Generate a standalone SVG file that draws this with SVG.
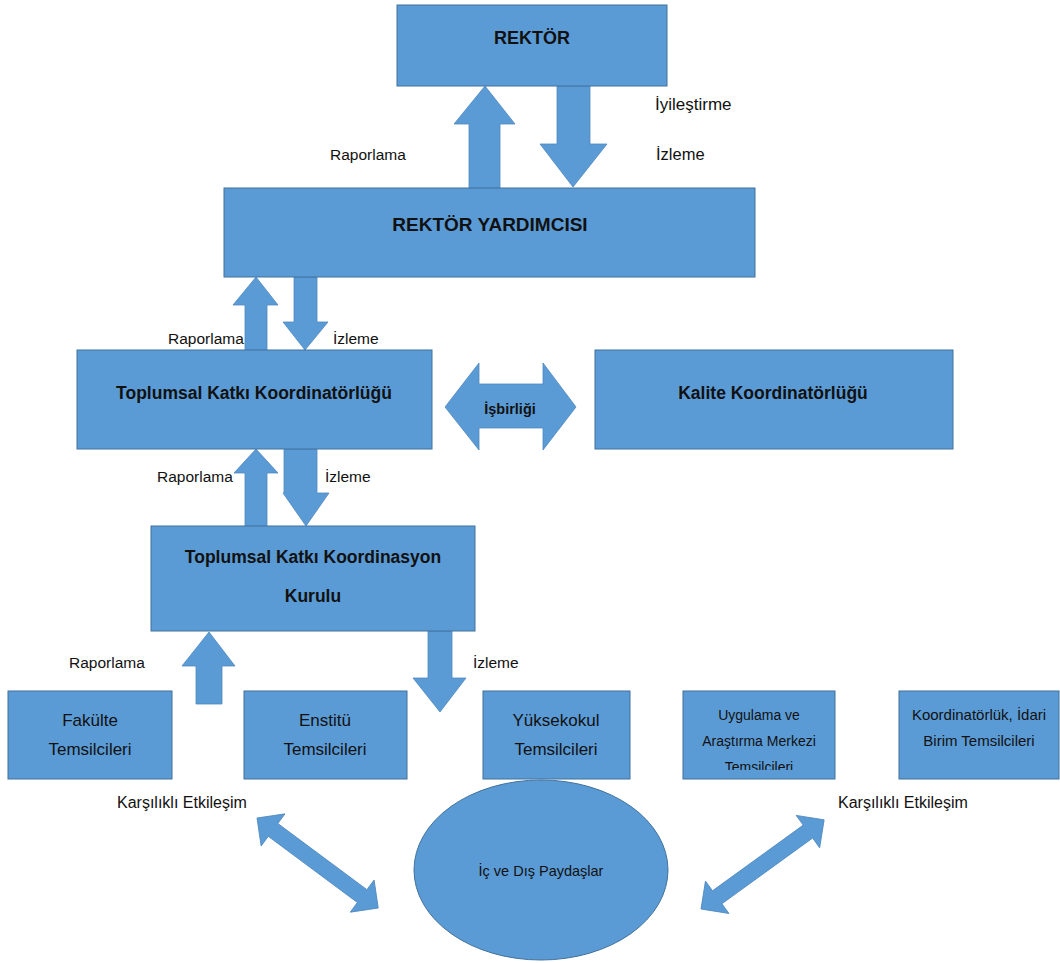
<svg xmlns="http://www.w3.org/2000/svg" width="1060" height="963" viewBox="0 0 1060 963">
<style>
.box{fill:#5B9BD5;stroke:#41719C;stroke-width:1}
.arr{fill:#5B9BD5;stroke:#4F88BE;stroke-width:0.8}
.t{font-family:"Liberation Sans",Arial,sans-serif;fill:#111;text-anchor:middle}
.hb{font-weight:bold;font-size:17px}
.sm{font-size:17px}
.xs{font-size:14px}
.lb{font-family:"Liberation Sans",Arial,sans-serif;fill:#111;font-size:15.5px}
</style>
<defs>
<clipPath id="clipU"><rect x="683" y="691" width="152" height="79"/></clipPath>
</defs>
<rect width="1060" height="963" fill="#fff"/>

<g id="connectors">
<polygon class="arr" points="485,86 515,124 500,124 500,188 469,188 469,124 454,124"/>
<polygon class="arr" points="557,86 590,86 590,144 607,144 573,187 540,144 557,144"/>
<polygon class="arr" points="256,277 278,305 267,305 267,350 245,350 245,305 233,305"/>
<polygon class="arr" points="294,277 317,277 317,322 328,322 305,350 283,322 294,322"/>
<polygon class="arr" points="256,449 278,473 267,473 267,526 245,526 245,473 234,473"/>
<polygon class="arr" points="284,449 317,449 317,493 329,493 306,526 283,493 284,493"/>
<polygon class="arr" points="209,632 235,666 222,666 222,704 196,704 196,666 182,666"/>
<polygon class="arr" points="428,631 452,631 452,678 466,678 440,712 413,678 428,678"/>
<polygon class="arr" points="445,407 479,363 479,384 543,384 543,363 576,407 543,450 543,428 479,428 479,450"/>
<polygon class="arr" transform="translate(257,818) rotate(36.6)" points="0,0 20,-20 20,-8 131,-8 131,-20 151,0 131,20 131,8 20,8 20,20"/>
<polygon class="arr" transform="translate(701,909) rotate(-35.9)" points="0,0 20,-20 20,-8 132,-8 132,-20 152,0 132,20 132,8 20,8 20,20"/>
<text class="lb" x="655" y="110" style="font-size:17px">İyileştirme</text>
<text class="lb" x="656" y="160" style="font-size:16.5px">İzleme</text>
<text class="lb" x="330" y="160">Raporlama</text>
<text class="lb" x="168" y="344">Raporlama</text>
<text class="lb" x="333" y="344">İzleme</text>
<text class="lb" x="157" y="482">Raporlama</text>
<text class="lb" x="325" y="482">İzleme</text>
<text class="lb" x="69" y="668">Raporlama</text>
<text class="lb" x="473" y="668">İzleme</text>
<text class="t" x="510" y="414" style="font-size:14.5px;font-weight:bold">İşbirliği</text>
<text class="lb" x="117" y="808" style="font-size:16px">Karşılıklı Etkileşim</text>
<text class="lb" x="838" y="808" style="font-size:16px">Karşılıklı Etkileşim</text>
</g>

<g id="rektor">
<rect class="box" x="397" y="5" width="270" height="81"/>
<text class="t hb" x="532" y="44" style="font-size:18px">REKTÖR</text>
</g>
<g id="rektor-yardimcisi">
<rect class="box" x="224" y="188" width="531" height="89"/>
<text class="t hb" x="490" y="231" style="font-size:19px">REKTÖR YARDIMCISI</text>
</g>
<g id="tkk">
<rect class="box" x="77" y="350" width="355" height="99"/>
<text class="t hb" x="254" y="399" style="font-size:17.5px">Toplumsal Katkı Koordinatörlüğü</text>
</g>
<g id="kalite">
<rect class="box" x="595" y="350" width="358" height="99"/>
<text class="t hb" x="773" y="399" style="font-size:17.5px">Kalite Koordinatörlüğü</text>
</g>
<g id="tkkk">
<rect class="box" x="151" y="526" width="324" height="105"/>
<text class="t hb" x="313" y="563" style="font-size:17.5px">Toplumsal Katkı Koordinasyon</text>
<text class="t hb" x="313" y="602" style="font-size:17.5px">Kurulu</text>
</g>
<g id="fakulte">
<rect class="box" x="8" y="691" width="164" height="88"/>
<text class="t sm" x="90" y="726">Fakülte</text>
<text class="t sm" x="90" y="755">Temsilcileri</text>
</g>
<g id="enstitu">
<rect class="box" x="244" y="691" width="163" height="88"/>
<text class="t sm" x="325" y="726">Enstitü</text>
<text class="t sm" x="325" y="755">Temsilcileri</text>
</g>
<g id="yuksekokul">
<rect class="box" x="483" y="691" width="147" height="88"/>
<text class="t sm" x="556" y="726">Yüksekokul</text>
<text class="t sm" x="556" y="755">Temsilcileri</text>
</g>
<g id="uygulama">
<rect class="box" x="683" y="691" width="152" height="88"/>
<g clip-path="url(#clipU)">
<text class="t xs" x="759" y="720">Uygulama ve</text>
<text class="t xs" x="759" y="746">Araştırma Merkezi</text>
<text class="t xs" x="759" y="772">Temsilcileri</text>
</g>
</g>
<g id="koordinatorluk">
<rect class="box" x="899" y="691" width="160" height="88"/>
<text class="t xs" x="979" y="720" style="font-size:15px">Koordinatörlük, İdari</text>
<text class="t xs" x="979" y="746" style="font-size:15px">Birim Temsilcileri</text>
</g>
<g id="paydaslar">
<ellipse class="box" cx="541" cy="870" rx="127" ry="90"/>
<text class="t" x="541" y="876" style="font-size:14.5px">İç ve Dış Paydaşlar</text>
</g>
</svg>
